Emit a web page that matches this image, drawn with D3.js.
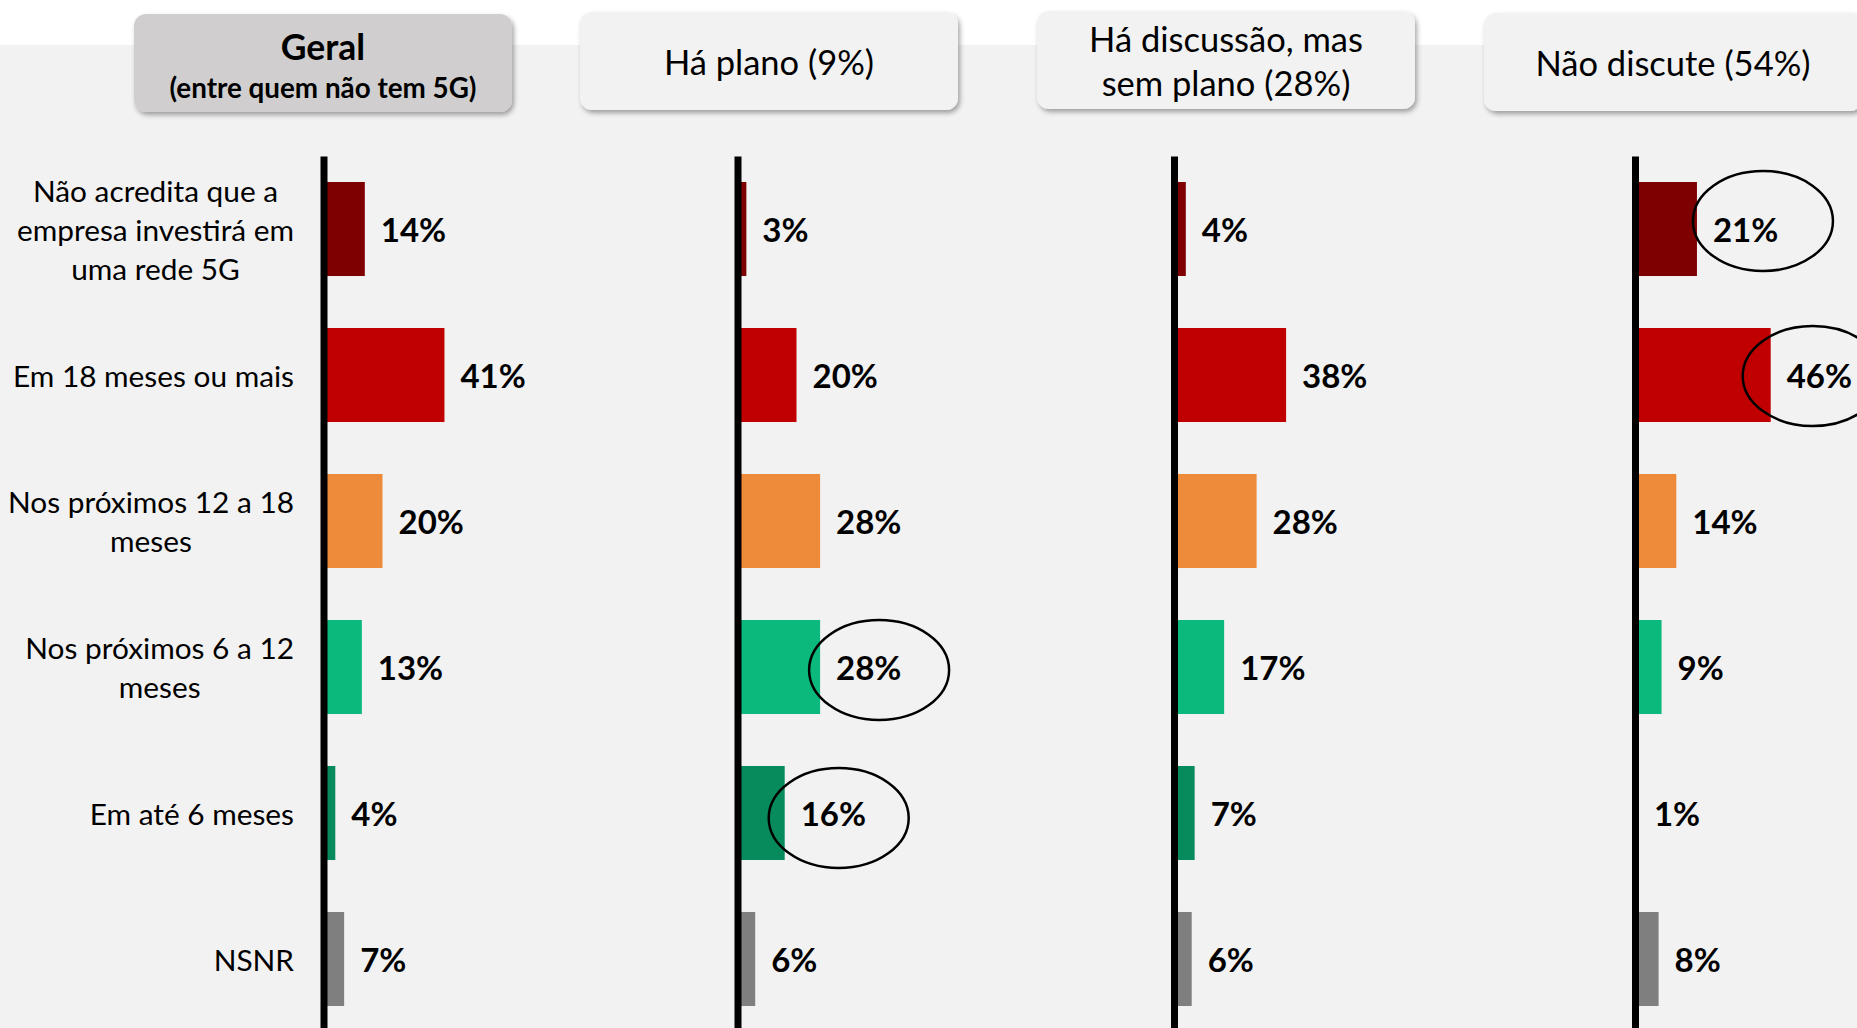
<!DOCTYPE html>
<html>
<head>
<meta charset="utf-8">
<script src="https://d3js.org/d3.v7.min.js"></script>
<style>
  body { margin: 0; background: #fff; }
  svg { display: block; font-family: Lato, sans-serif; }
</style>
</head>
<body>
<div id="chart"></div>
<script>
const width = 1857
const height = 1028

// data
const categories = [
  "Não acredita que a|empresa investirá em|uma rede 5G",
  "Em 18 meses ou mais",
  "Nos próximos 12 a 18|meses",
  "Nos próximos 6 a 12|meses",
  "Em até 6 meses",
  "NSNR"
]
const groups = ["Geral|(entre quem não tem 5G)", "Há plano (9%)", "Há discussão, mas|sem plano (28%)", "Não discute (54%)"]
const geral = [14, 41, 20, 13, 4, 7]
const haPlano = [3, 20, 28, 28, 16, 6]
const haDiscussao = [4, 38, 28, 17, 7, 6]
const naoDiscute = [21, 46, 14, 9, 1, 8]
const series = [geral, haPlano, haDiscussao, naoDiscute]
// circled values: [group, category]
const highlights = [[1, 3], [1, 4], [3, 0], [3, 1]]

// layout / style
const colors = ["#7f0000", "#c00000", "#ed8b3b", "#0bb97c", "#088b5c", "#7f7f7f"]
const axisX = [323.5, 737.5, 1174, 1635]
const boxX = [134, 580, 1037, 1484]
const boxY = [14, 12, 11, 13]
const boxW = 378, boxH = 98
const ellipseOffset = [[59, 3], [54, 5], [66, -8], [42, 1]]
const labelRight = 294

const svg = d3.select("#chart").append("svg")
  .attr("width", width).attr("height", height)

const defs = svg.append("defs")
defs.append("filter").attr("id", "shadow")
  .attr("x", "-10%").attr("y", "-20%").attr("width", "120%").attr("height", "150%")
  .append("feDropShadow")
  .attr("dx", 2).attr("dy", 3).attr("stdDeviation", 2.5)
  .attr("flood-color", "#000").attr("flood-opacity", 0.35)

svg.append("rect").attr("x", 0).attr("y", 45).attr("width", width).attr("height", height - 45)
  .attr("fill", "#f2f2f2")

const y = d3.scaleBand().domain(d3.range(categories.length))
  .range([156, 1032]).paddingInner(0.356).paddingOuter(0.178)
const x = d3.scaleLinear().domain([0, 100]).range([0, 295])

// header boxes
groups.forEach((g, i) => {
  const box = svg.append("g").attr("transform", "translate(" + boxX[i] + "," + boxY[i] + ")")
  box.append("rect")
    .attr("width", boxW).attr("height", boxH).attr("rx", 12)
    .attr("fill", i === 0 ? "#d0cece" : "#f2f2f2")
    .attr("filter", "url(#shadow)")
  const lines = g.split("|")
  if (i === 0) {
    box.append("text").text(lines[0])
      .attr("x", boxW / 2).attr("y", 32).attr("text-anchor", "middle").attr("dominant-baseline", "central")
      .attr("font-weight", "bold").attr("font-size", 35.5).attr("fill", "#000")
    box.append("text").text(lines[1])
      .attr("x", boxW / 2).attr("y", 73).attr("text-anchor", "middle").attr("dominant-baseline", "central")
      .attr("font-weight", "bold").attr("font-size", 27.8).attr("fill", "#000")
  } else {
    const lh = 44
    lines.forEach((l, j) => {
      box.append("text").text(l)
        .attr("x", boxW / 2).attr("y", boxH / 2 + (j - (lines.length - 1) / 2) * lh)
        .attr("text-anchor", "middle").attr("dominant-baseline", "central")
        .attr("font-size", 34.5).attr("fill", "#000")
    })
  }
})

// category labels
categories.forEach((c, i) => {
  const lines = c.split("|")
  const cy = y(i) + y.bandwidth() / 2
  const lh = 39
  const g = svg.append("g")
  const texts = lines.map((l, j) => g.append("text").text(l)
    .attr("y", cy + (j - (lines.length - 1) / 2) * lh)
    .attr("dominant-baseline", "central")
    .attr("font-size", 29.8).attr("fill", "#000"))
  if (lines.length === 1) {
    texts[0].attr("x", labelRight).attr("text-anchor", "end")
  } else {
    const maxW = d3.max(texts, t => t.node().getComputedTextLength())
    texts.forEach(t => t.attr("x", labelRight - maxW / 2).attr("text-anchor", "middle"))
  }
})

// panels
series.forEach((vals, p) => {
  const panel = svg.append("g").attr("transform", "translate(" + axisX[p] + ",0)")

  panel.selectAll("rect.bar")
    .data(vals)
    .enter()
    .append("rect")
    .attr("class", "bar")
    .attr("x", 0)
    .attr("y", (d, i) => y(i))
    .attr("width", d => x(d))
    .attr("height", y.bandwidth())
    .attr("fill", (d, i) => colors[i])

  panel.selectAll("text.value")
    .data(vals)
    .enter()
    .append("text")
    .attr("class", "value")
    .attr("x", d => x(d) + 16)
    .attr("y", (d, i) => y(i) + y.bandwidth() / 2)
    .attr("dominant-baseline", "central")
    .attr("font-weight", "bold")
    .attr("font-size", 33)
    .attr("fill", "#000")
    .text(d => d + "%")

  const axis = panel.append("g").call(d3.axisLeft(y).tickSize(0).tickSizeOuter(0).tickFormat(""))
  axis.select(".domain").attr("stroke", "#000").attr("stroke-width", 7)
})

// circled values
highlights.forEach((h, k) => {
  const [p, c] = h
  const v = series[p][c]
  svg.append("ellipse")
    .attr("cx", axisX[p] + x(v) + ellipseOffset[k][0])
    .attr("cy", y(c) + y.bandwidth() / 2 + ellipseOffset[k][1])
    .attr("rx", 70).attr("ry", 50)
    .attr("fill", "none")
    .attr("stroke", "#000")
    .attr("stroke-width", 2.5)
})
</script>
</body>
</html>
